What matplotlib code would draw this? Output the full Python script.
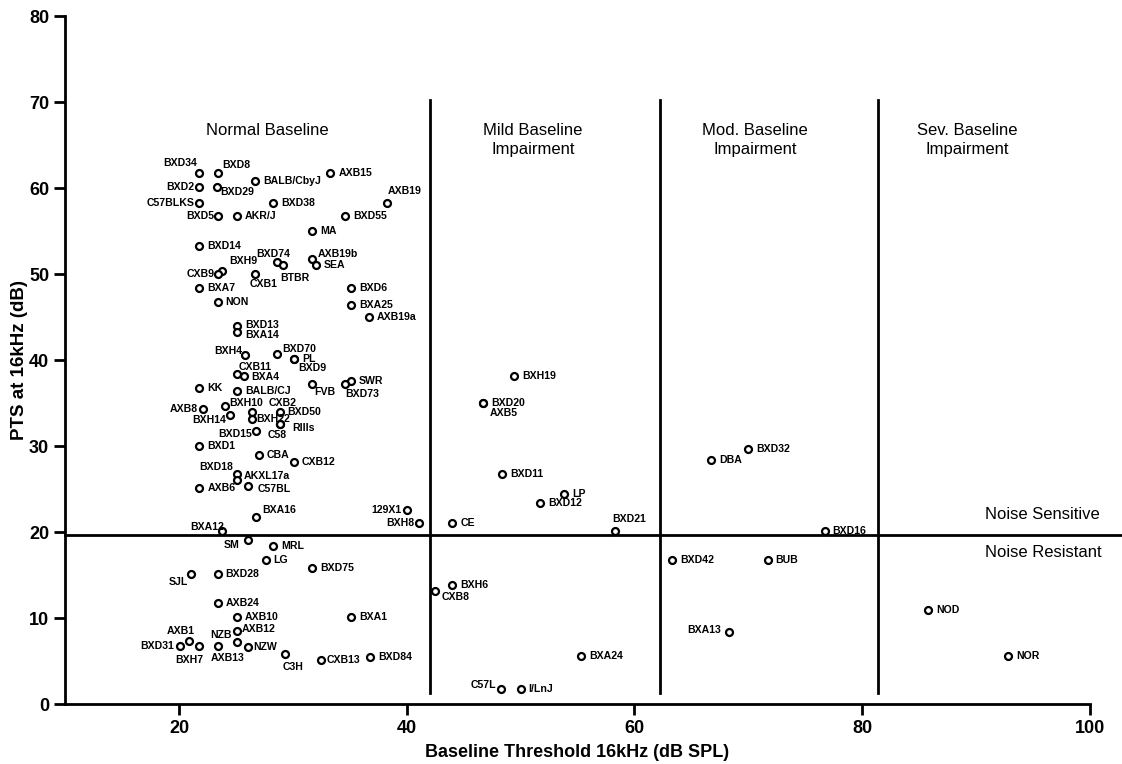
import matplotlib
matplotlib.use("Agg")
import matplotlib.pyplot as plt

plt.rcParams["font.family"] = ["Liberation Sans", "DejaVu Sans"]

# strain, baseline threshold 16 kHz (dB SPL), PTS at 16 kHz (dB)
strains = [
    "BXD34", "BXD8", "BALB/CbyJ", "AXB15", "BXD2", "BXD29", "AXB19", "C57BLKS",
    "BXD38", "BXD5", "AKR/J", "BXD55", "MA", "BXD14", "BXD74", "BTBR", "AXB19b",
    "SEA", "BXH9", "CXB9", "CXB1", "BXA7", "BXD6", "NON", "BXA25", "AXB19a",
    "BXD13", "BXA14", "BXH4", "BXD70", "PL", "BXD9", "CXB11", "BXA4", "FVB",
    "SWR", "BXD73", "KK", "BALB/CJ", "AXB8", "BXH10", "CXB2", "BXH14", "BXD50",
    "BXH22", "RIIIs", "C58", "BXD15", "BXD1", "CBA", "CXB12", "BXD18", "AKXL17a",
    "AXB6", "C57BL", "BXA16", "129X1", "BXH8", "BXA12",
    "SM", "MRL", "LG", "BXD75", "SJL", "BXD28", "AXB24", "AXB10", "BXA1",
    "AXB12", "AXB1", "NZB", "BXD31", "BXH7", "AXB13", "NZW", "C3H", "CXB13",
    "BXD84",
    "BXH19", "BXD20", "AXB5", "BXD11", "LP", "BXD12", "CE", "BXD21",
    "BXH6", "CXB8", "BXA24", "C57L", "I/LnJ",
    "BXD32", "DBA", "BXD16", "BXD42", "BUB", "BXA13", "NOD", "NOR",
]
baseline = [
    21.8, 23.4, 26.7, 33.3, 21.8, 23.3, 38.3, 21.8,
    28.3, 23.4, 25.1, 34.6, 31.7, 21.8, 28.6, 29.1, 31.7,
    32.0, 23.8, 23.4, 26.7, 21.8, 35.1, 23.4, 35.1, 36.7,
    25.1, 25.1, 25.8, 28.6, 30.1, 30.1, 25.1, 25.7, 31.7,
    35.1, 34.6, 21.8, 25.1, 22.1, 24.0, 26.4, 24.5, 28.9,
    26.4, 28.9, 28.9, 26.8, 21.8, 27.0, 30.1, 25.1, 25.1,
    21.8, 26.1, 26.8, 40.0, 41.1, 23.8,
    26.1, 28.3, 27.6, 31.7, 21.1, 23.4, 23.4, 25.1, 35.1,
    25.1, 20.9, 25.1, 20.1, 21.8, 23.4, 26.1, 29.3, 32.5,
    36.8,
    49.4, 46.7, 46.7, 48.4, 53.8, 51.7, 44.0, 58.3,
    44.0, 42.5, 55.3, 48.3, 50.0,
    70.0, 66.7, 76.7, 63.3, 71.7, 68.3, 85.8, 92.8,
]
pts = [
    61.7, 61.7, 60.8, 61.7, 60.1, 60.1, 58.3, 58.3,
    58.3, 56.7, 56.7, 56.8, 55.0, 53.3, 51.4, 51.0, 51.8,
    51.0, 50.3, 50.0, 50.0, 48.4, 48.4, 46.7, 46.4, 45.0,
    43.9, 43.3, 40.6, 40.7, 40.1, 40.1, 38.4, 38.2, 37.2,
    37.6, 37.2, 36.7, 36.4, 34.3, 34.7, 34.0, 33.6, 33.9,
    33.2, 32.6, 32.6, 31.8, 30.0, 28.9, 28.1, 26.7, 26.0,
    25.1, 25.3, 21.8, 22.6, 21.1, 20.1,
    19.1, 18.4, 16.7, 15.8, 15.1, 15.1, 11.8, 10.1, 10.1,
    8.5, 7.3, 7.2, 6.8, 6.8, 6.8, 6.6, 5.8, 5.1,
    5.5,
    38.2, 35.0, 35.0, 26.7, 24.4, 23.4, 21.1, 20.1,
    13.8, 13.2, 5.6, 1.8, 1.8,
    29.6, 28.4, 20.1, 16.7, 16.7, 8.4, 10.9, 5.6,
]

region_names = ["Normal Baseline", "Mild Baseline\nImpairment",
                "Mod. Baseline\nImpairment", "Sev. Baseline\nImpairment"]
region_bounds = [42.0, 62.25, 81.4]
pts_cutoff = 19.65

# label placement in pixels: (dx, dy, ha); default is to the right of the point
RIGHT = (8, 0, "left")
label_pos = {
    "BXD34": (-2, 10, "right"), "BXD8": (5, 8, "left"), "BXD2": (-5, 0, "right"),
    "BXD29": (4, -5, "left"), "AXB19": (0, 12, "left"), "C57BLKS": (-5, 0, "right"),
    "BXD5": (-3, 0, "right"), "BXD74": (-4, 8, "center"), "BTBR": (-2, -13, "left"),
    "AXB19b": (6, 5, "left"), "BXH9": (7, 10, "left"), "CXB9": (-3, 0, "right"),
    "CXB1": (-6, -10, "left"), "BXD13": (8, 1, "left"), "BXA14": (8, -3, "left"),
    "BXH4": (-3, 4, "right"), "BXD70": (5, 5, "left"), "BXD9": (4, -9, "left"),
    "CXB11": (2, 7, "left"), "BXA4": (7, -1, "left"), "FVB": (2, -8, "left"),
    "BXD73": (0, -10, "left"), "AXB8": (-5, 0, "right"), "BXH10": (5, 3, "left"),
    "CXB2": (17, 9, "left"), "BXH14": (-4, -5, "right"), "BXD50": (7, 0, "left"),
    "BXH22": (4, 0, "left"), "RIIIs": (12, -4, "left"), "C58": (-3, -11, "center"),
    "BXD15": (-4, -3, "right"), "BXD18": (-4, 7, "right"), "AKXL17a": (7, 4, "left"),
    "C57BL": (9, -3, "left"), "BXA16": (6, 7, "left"), "129X1": (-5, 0, "right"),
    "BXH8": (-5, 0, "right"), "BXA12": (2, 4, "right"), "SM": (-9, -5, "right"),
    "SJL": (-3, -8, "right"), "AXB12": (5, 2, "left"), "AXB1": (-8, 10, "center"),
    "NZB": (-5, 7, "right"), "BXD31": (-6, 0, "right"), "BXH7": (-10, -14, "center"),
    "AXB13": (10, -12, "center"), "NZW": (5, 0, "left"), "C3H": (8, -13, "center"),
    "CXB13": (5, 0, "left"), "AXB5": (7, -10, "left"), "BXD21": (-3, 12, "left"),
    "CXB8": (6, -6, "left"), "C57L": (-5, 4, "right"), "BXA13": (-8, 2, "right"),
}

fig = plt.figure(figsize=(11.22, 7.64), dpi=100)
ax = fig.add_axes([0.058, 0.0785, 0.9135, 0.9005])

ax.plot(baseline, pts, "o", markersize=5, markerfacecolor="white",
        markeredgecolor="black", markeredgewidth=1.6, zorder=3)

for name, x, y in zip(strains, baseline, pts):
    dx, dy, ha = label_pos.get(name, RIGHT)
    ax.annotate(name, (x, y), xytext=(dx, dy), textcoords="offset pixels",
                ha=ha, va="center", fontsize=7.6, fontweight="bold")

# region dividers
for xb in region_bounds:
    ax.plot([xb, xb], [1.3, 70.2], color="black", linewidth=2, zorder=2)
ax.plot([10, 103], [pts_cutoff, pts_cutoff], color="black", linewidth=2,
        clip_on=False, zorder=2)

ax.text(27.8, 66.7, region_names[0], ha="center", va="center", fontsize=12)
for name, xc in zip(region_names[1:], [51.1, 70.6, 89.2]):
    ax.text(xc, 65.6, name, ha="center", va="center", fontsize=12,
            linespacing=1.35)
ax.text(90.8, 22.0, "Noise Sensitive", ha="left", va="center", fontsize=12,
        clip_on=False)
ax.text(90.8, 17.6, "Noise Resistant", ha="left", va="center", fontsize=12,
        clip_on=False)

ax.set_xlim(10, 100)
ax.set_ylim(0, 80)
ax.set_xticks([20, 40, 60, 80, 100])
ax.set_yticks(range(0, 81, 10))
for s in ("top", "right"):
    ax.spines[s].set_visible(False)
for s in ("left", "bottom"):
    ax.spines[s].set_linewidth(2)
ax.tick_params(width=2, length=8, labelsize=13)
for lbl in ax.get_xticklabels() + ax.get_yticklabels():
    lbl.set_fontweight("bold")

ax.set_xlabel("Baseline Threshold 16kHz (dB SPL)", fontsize=13,
              fontweight="bold", labelpad=5)
ax.set_ylabel("PTS at 16kHz (dB)", fontsize=13.5, fontweight="bold")
ax.yaxis.set_label_coords(-0.036, 0.5)

fig.savefig("out.png", dpi=100)
